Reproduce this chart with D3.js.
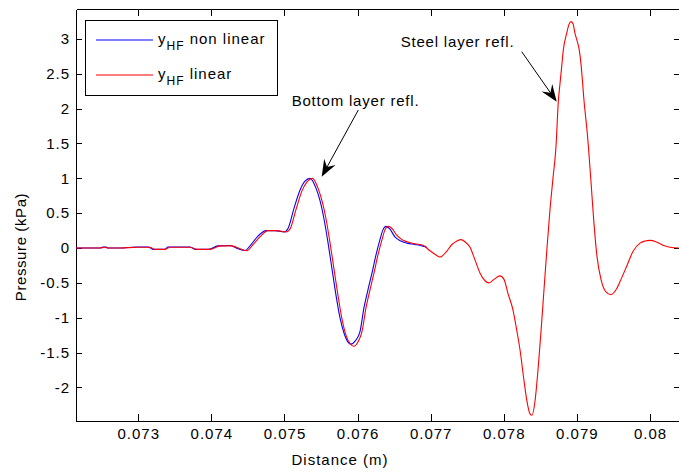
<!DOCTYPE html>
<html>
<head>
<meta charset="utf-8">
<script src="https://cdn.jsdelivr.net/npm/d3@7"></script>
<style>
  html, body { margin: 0; padding: 0; background: #fff; }
  svg { display: block; }
  text { font-family: "Liberation Sans", Arial, sans-serif; fill: #000; }
</style>
</head>
<body>
<svg id="chart" width="679" height="473"></svg>
<script>
// ---- data (distance in m, pressure in kPa) ----
const redDistance = [0.072148,0.072476,0.072544,0.072585,0.072750,0.072996,0.073160,0.073228,0.073365,0.073434,0.073707,0.073803,0.073981,0.074118,0.074282,0.074391,0.074487,0.074569,0.074665,0.074774,0.074897,0.075021,0.075075,0.075157,0.075239,0.075308,0.075383,0.075458,0.075513,0.075568,0.075622,0.075677,0.075732,0.075787,0.075841,0.075896,0.075951,0.076005,0.076060,0.076115,0.076170,0.076224,0.076279,0.076334,0.076375,0.076416,0.076471,0.076539,0.076607,0.076676,0.076785,0.076895,0.076990,0.077073,0.077127,0.077209,0.077291,0.077360,0.077414,0.077469,0.077538,0.077606,0.077674,0.077743,0.077798,0.077866,0.077948,0.078003,0.078057,0.078126,0.078181,0.078222,0.078276,0.078317,0.078358,0.078386,0.078427,0.078468,0.078509,0.078550,0.078591,0.078632,0.078673,0.078714,0.078746,0.078769,0.078792,0.078814,0.078860,0.078892,0.078919,0.078947,0.078974,0.079001,0.079033,0.079060,0.079079,0.079097,0.079120,0.079142,0.079161,0.079193,0.079234,0.079275,0.079330,0.079398,0.079467,0.079535,0.079603,0.079686,0.079767,0.079863,0.079932,0.080000,0.080082,0.080178,0.080274,0.080397];
const redPressure = [0,0,0.01,0,0,0.01,0.01,-0.02,-0.02,0.01,0.01,-0.02,-0.02,0.03,0.03,-0.01,-0.04,0.05,0.16,0.25,0.25,0.23,0.27,0.55,0.82,0.95,1.0,0.86,0.68,0.42,0.08,-0.3,-0.68,-1.02,-1.25,-1.37,-1.41,-1.35,-1.2,-0.86,-0.6,-0.36,-0.1,0.12,0.26,0.31,0.28,0.18,0.12,0.09,0.06,0.04,-0.04,-0.1,-0.13,-0.06,0.05,0.1,0.12,0.09,0.01,-0.17,-0.36,-0.47,-0.5,-0.45,-0.4,-0.45,-0.65,-0.89,-1.2,-1.46,-1.9,-2.2,-2.38,-2.4,-2.2,-1.75,-1.2,-0.6,0.0,0.55,1.0,1.45,2.1,2.36,2.6,2.84,3.08,3.21,3.25,3.22,3.08,2.98,2.84,2.6,2.36,2.12,1.88,1.65,1.41,0.95,0.35,-0.12,-0.45,-0.63,-0.67,-0.6,-0.45,-0.25,-0.05,0.07,0.1,0.11,0.09,0.04,0.01,0];

const blueDistance = [0.072148,0.072476,0.072517,0.072558,0.072585,0.072750,0.072969,0.073133,0.073201,0.073365,0.073406,0.073707,0.073776,0.073954,0.074090,0.074254,0.074364,0.074460,0.074542,0.074637,0.074747,0.074870,0.074993,0.075048,0.075130,0.075212,0.075280,0.075349,0.075431,0.075486,0.075540,0.075595,0.075650,0.075705,0.075759,0.075814,0.075869,0.075910,0.075971,0.076033,0.076087,0.076142,0.076197,0.076252,0.076306,0.076347,0.076388,0.076443,0.076511,0.076593,0.076676,0.076785,0.076881,0.076949];
const bluePressure = [0,0,0.015,0.015,0,0,0.015,0.015,-0.02,-0.02,0.015,0.015,-0.02,-0.02,0.03,0.035,-0.01,-0.035,0.05,0.17,0.25,0.25,0.23,0.28,0.57,0.83,0.96,1.0,0.86,0.68,0.42,0.08,-0.3,-0.68,-1.0,-1.22,-1.35,-1.38,-1.33,-1.2,-0.86,-0.6,-0.36,-0.1,0.12,0.26,0.31,0.27,0.16,0.1,0.07,0.05,0.03,0.01];

const xTicks = [0.073,0.074,0.075,0.076,0.077,0.078,0.079,0.080];
const xTickLabels = ["0.073","0.074","0.075","0.076","0.077","0.078","0.079","0.08"];
const yTicks = [-2,-1.5,-1,-0.5,0,0.5,1,1.5,2,2.5,3];
const yTickLabels = ["-2","-1.5","-1","-0.5","0","0.5","1","1.5","2","2.5","3"];

const seriesNames = ["non linear","linear"];
const xLabel = "Distance (m)";
const yLabel = "Pressure (kPa)";
const annoTexts = ["Bottom layer refl.","Steel layer refl."];
// annotation anchors in data units: [textX, textY, tailX, tailY, tipX, tipY]
const annoBottom = [0.075098, 2.038, 0.076010, 1.981, 0.075509, 1.023];
const annoSteel  = [0.076590, 2.885, 0.078245, 2.818, 0.078724, 2.10];

// ---- layout ----
const L = 76, R = 679, T = 9, B = 421;
const svg = d3.select("#chart");
const x = d3.scaleLinear().domain([0.072148, 0.080397]).range([L, R]);
const y = d3.scaleLinear().domain([-2.4831, 3.4305]).range([B, T]);

const FONT = 15;

// axes
const gx = svg.append("g").attr("transform", `translate(0,${B})`)
  .call(d3.axisBottom(x).tickValues(xTicks).tickFormat((d,i)=>xTickLabels[i]).tickSizeInner(-7).tickSizeOuter(0).tickPadding(7));
const gxt = svg.append("g").attr("transform", `translate(0,${T})`)
  .call(d3.axisTop(x).tickValues(xTicks).tickFormat("").tickSizeInner(-7).tickSizeOuter(0));
const gy = svg.append("g").attr("transform", `translate(${L},0)`)
  .call(d3.axisLeft(y).tickValues(yTicks).tickFormat((d,i)=>yTickLabels[i]).tickSizeInner(-6).tickSizeOuter(0).tickPadding(6));
const gyr = svg.append("g").attr("transform", `translate(${R+1},0)`)
  .call(d3.axisRight(y).tickValues(yTicks).tickFormat("").tickSizeInner(-6).tickSizeOuter(0));

[gx,gxt,gy,gyr].forEach(g => {
  g.selectAll("path.domain").attr("stroke","#000").attr("stroke-width",1).attr("shape-rendering","crispEdges");
  g.selectAll(".tick line").attr("stroke","#000").attr("shape-rendering","crispEdges");
  g.selectAll("text").attr("font-size",FONT).attr("font-family",'"Liberation Sans", Arial, sans-serif').attr("fill","#000").attr("letter-spacing","1px");
});

// lines
const line = d3.line().x(d=>x(d[0])).y(d=>y(d[1])).curve(d3.curveMonotoneX);
const blueData = blueDistance.map((d,i)=>[d, bluePressure[i]]);
const redData = redDistance.map((d,i)=>[d, redPressure[i]]);
svg.append("defs").append("clipPath").attr("id","clip").append("rect")
  .attr("x",L).attr("y",T).attr("width",R-L).attr("height",B-T);
const plot = svg.append("g").attr("clip-path","url(#clip)");
plot.append("path").datum(blueData).attr("d",line).attr("fill","none").attr("stroke","#0000ff").attr("stroke-width",1.1);
plot.append("path").datum(redData).attr("d",line).attr("fill","none").attr("stroke","#ff0000").attr("stroke-width",1.1);

// axis labels
svg.append("text").attr("x",340).attr("y",465).attr("text-anchor","middle")
  .attr("font-size",FONT).attr("letter-spacing","1px").text(xLabel);
svg.append("text").attr("transform","translate(26,247) rotate(-90)").attr("text-anchor","middle")
  .attr("font-size",FONT).attr("letter-spacing","0.6px").text(yLabel);

// annotations
function arrow(a, text, headLen, headW) {
  svg.append("text").attr("x",x(a[0])).attr("y",y(a[1])).attr("font-size",FONT).attr("letter-spacing","0.8px").text(text);
  const x1 = x(a[2]), y1 = y(a[3]), x2 = x(a[4]), y2 = y(a[5]);
  const dx = x2-x1, dy = y2-y1, len = Math.hypot(dx,dy);
  const ux = dx/len, uy = dy/len, px = -uy, py = ux;
  const bx = x2 - ux*headLen, by = y2 - uy*headLen;
  const nx = x2 - ux*headLen*0.65, ny = y2 - uy*headLen*0.65;
  svg.append("line").attr("x1",x1).attr("y1",y1).attr("x2",nx).attr("y2",ny).attr("stroke","#000").attr("stroke-width",1);
  svg.append("path").attr("d",`M${x2},${y2}L${bx+px*headW/2},${by+py*headW/2}L${nx},${ny}L${bx-px*headW/2},${by-py*headW/2}Z`).attr("fill","#000");
}
arrow(annoBottom, annoTexts[0], 17, 13);
arrow(annoSteel, annoTexts[1], 17, 13);

// legend
const lg = svg.append("g");
lg.append("rect").attr("x",85.5).attr("y",20.5).attr("width",192).attr("height",75).attr("fill","#fff").attr("stroke","#000").attr("stroke-width",1);
const legColors = ["#0000ff","#ff0000"];
[40,75].forEach((ly,i)=>{
  lg.append("line").attr("x1",96).attr("x2",153).attr("y1",ly).attr("y2",ly).attr("stroke",legColors[i]).attr("stroke-width",1.1);
  const t = lg.append("text").attr("x",158).attr("y",ly+4).attr("font-size",FONT).attr("letter-spacing","1px");
  t.append("tspan").text("y");
  t.append("tspan").attr("font-size",12).attr("dy",6).text("HF");
  t.append("tspan").attr("dy",-6).text("\u00a0" + seriesNames[i]);
});
</script>
</body>
</html>
